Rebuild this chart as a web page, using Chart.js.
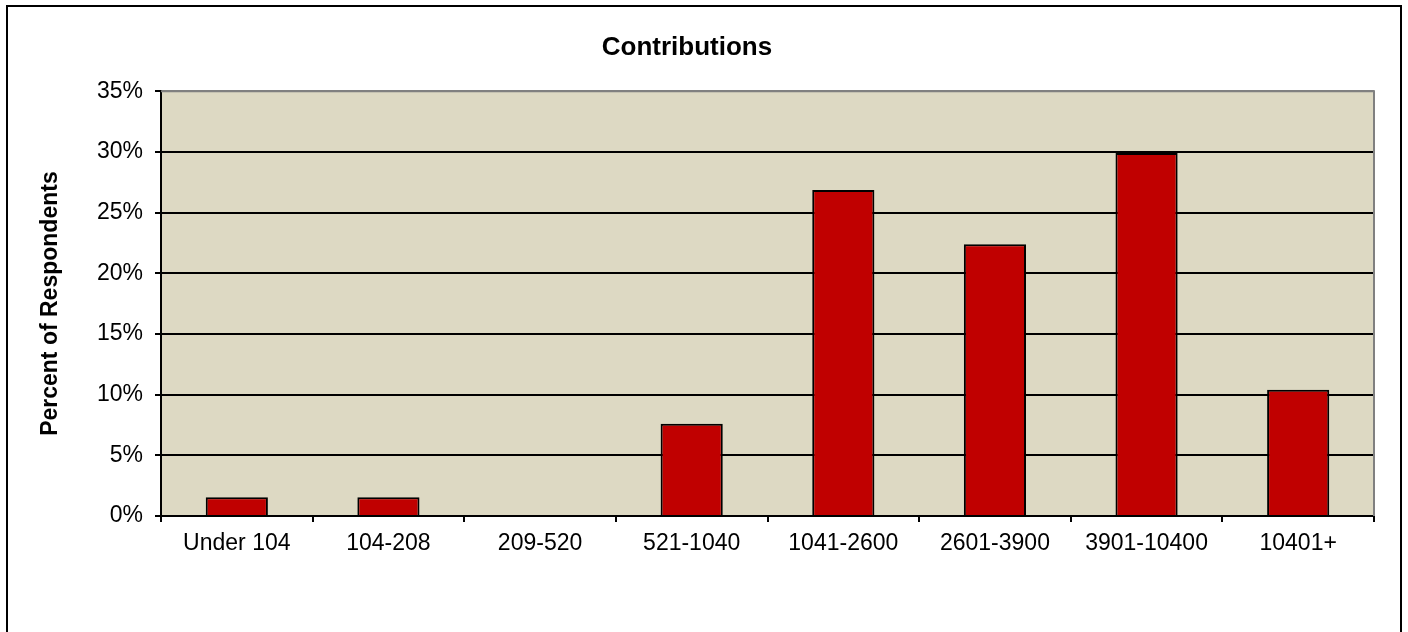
<!DOCTYPE html>
<html>
<head>
<meta charset="utf-8">
<title>Contributions</title>
<script src="https://cdn.jsdelivr.net/npm/chart.js@4/dist/chart.umd.min.js"></script>
<style>
	html, body { margin: 0; padding: 0; background: #fff; }
	#wrap { width: 1408px; height: 632px; position: relative; }
</style>
</head>
<body>
<div id="wrap"><canvas id="graphique"></canvas></div>
<script>
// Données
const categories = ["Under 104", "104-208", "209-520", "521-1040", "1041-2600", "2601-3900", "3901-10400", "10401+"];
const pourcentages = [1.55, 1.55, 0, 7.6, 26.85, 22.4, 29.9, 10.4];
const graduations = [0, 5, 10, 15, 20, 25, 30, 35];

const police = "'Liberation Sans', Arial, sans-serif";

// Fond de la zone de tracé + cadres
const cadres = {
	id: "cadres",
	beforeDraw(chart) {
		const { ctx, chartArea: a } = chart;
		ctx.save();
		ctx.fillStyle = "#fff";
		ctx.fillRect(0, 0, chart.width, chart.height);
		ctx.fillStyle = "#DDD9C3";
		ctx.fillRect(a.left, a.top, a.right - a.left, a.bottom - a.top);
		ctx.restore();
	},
	afterDraw(chart) {
		const { ctx, chartArea: a } = chart;
		ctx.save();
		// bord haut et droit de la zone de tracé (gris)
		ctx.strokeStyle = "#808080";
		ctx.lineWidth = 2;
		ctx.beginPath();
		ctx.moveTo(a.left, a.top);
		ctx.lineTo(a.right, a.top);
		ctx.lineTo(a.right, a.bottom);
		ctx.stroke();
		// cadre extérieur
		ctx.strokeStyle = "#000";
		ctx.strokeRect(7, 6, 1394, 640);
		ctx.restore();
	}
};

const data = {
	labels: categories,
	datasets: [{
		label: "Percent of Respondents",
		data: pourcentages,
		backgroundColor: "#C00000",
		borderColor: "#000",
		borderWidth: 2,
		barPercentage: 0.41,
		categoryPercentage: 1
	}]
};

const config = {
	type: "bar",
	data: data,
	plugins: [cadres],
	options: {
		responsive: false,
		animation: false,
		layout: { padding: { left: 0, right: 34, top: 0, bottom: 0 } },
		plugins: {
			legend: { display: false },
			tooltip: { enabled: false },
			title: {
				display: true,
				text: "Contributions",
				color: "#000",
				font: { family: police, size: 26, weight: "bold" },
				padding: { top: 32, bottom: 28 }
			}
		},
		scales: {
			x: {
				grid: { drawOnChartArea: false, color: "#000", lineWidth: 2, tickLength: 6, offset: true },
				border: { color: "#000", width: 2 },
				ticks: { color: "#000", font: { family: police, size: 23 }, padding: 8, maxRotation: 0 },
				afterFit(scale) { scale.height = 116; }
			},
			y: {
				min: 0,
				max: 35,
				afterBuildTicks(scale) { scale.ticks = graduations.map(v => ({ value: v })); },
				grid: {
					color: ctx => ctx.tick && ctx.tick.value === 35 ? "#808080" : "#000",
					tickColor: "#000",
					lineWidth: 2,
					tickLength: 6
				},
				border: { color: "#000", width: 2 },
				ticks: {
					color: "#000",
					font: { family: police, size: 23 },
					padding: 12,
					callback: v => v + "%"
				},
				title: {
					display: true,
					text: "Percent of Respondents",
					color: "#000",
					font: { family: police, size: 23, weight: "bold" },
					padding: { top: 37, bottom: 0 }
				},
				afterFit(scale) { scale.width = 161; }
			}
		}
	}
};

const canvas = document.querySelector("#graphique");
canvas.width = 1408;
canvas.height = 632;
new Chart(canvas, config);
</script>
</body>
</html>
